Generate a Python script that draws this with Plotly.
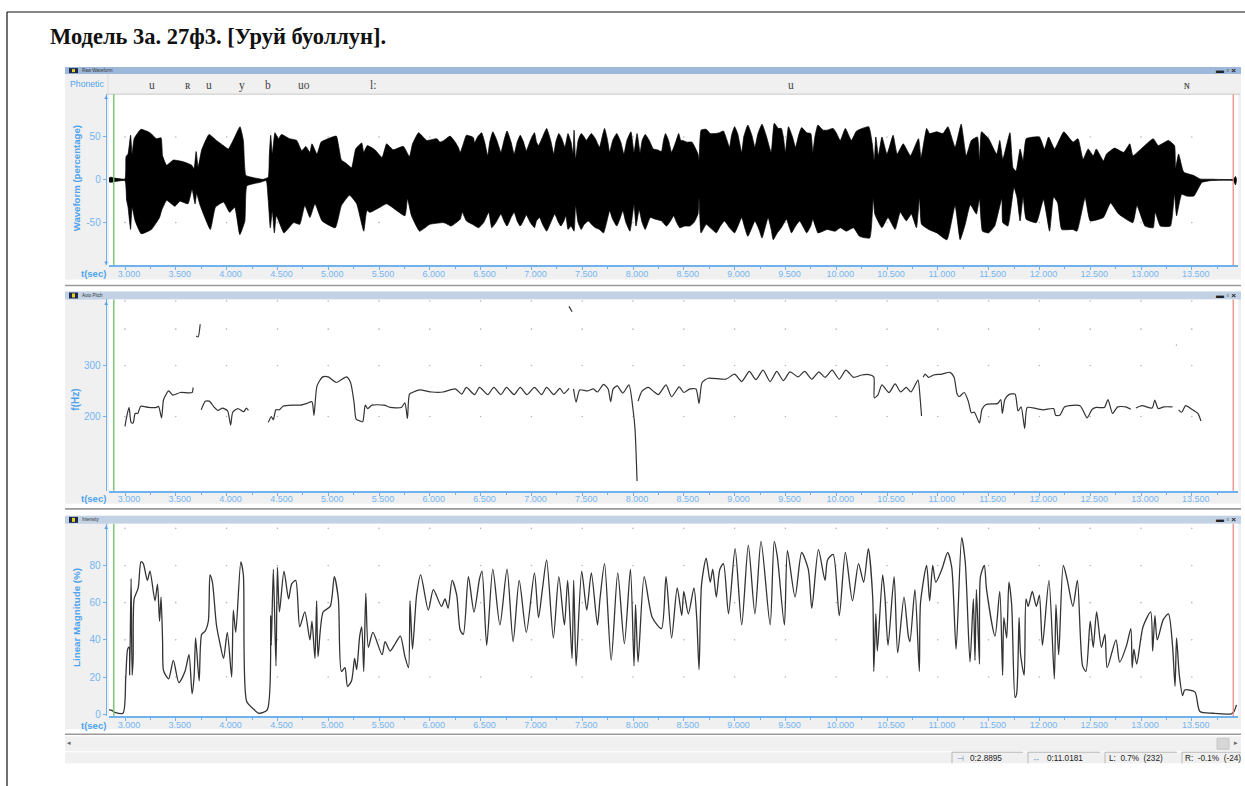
import math
import plotly.graph_objects as go

W, H = 1245, 786
VIEW_H = 781.7  # vertical pixel basis that lands layout pixels on the picture's pixels

# ---------- data ----------
upper_early_t = [2.84,2.86,2.9,3.0,3.01,3.03,3.055,3.07,3.09,3.157,3.246,3.31,3.355,3.37,3.41,3.476,3.575,3.656,3.68,3.70,3.72,3.755,3.827,3.90,3.968,4.017,4.08,4.132,4.165,4.19,4.263,4.36,4.41,4.42,4.434,4.45,4.476,4.51,4.54,4.62,4.69,4.74,4.78,4.82,4.84,4.89,4.93,5.02,5.08,5.13,5.18,5.23,5.27,5.30,5.33,5.35,5.385,5.46,5.53,5.575,5.64,5.74,5.80,5.83,5.89,5.97,6.07]
upper_early = [2,3,2,1,27,30,52,30,48,59,55,48,49,28,17,23,21,17,13,33,15,35,53,46,40,36,50,62,46,5,2.5,0.5,3,27,52,30,55,48,53,48,46,34,39,32,42,30,44,49,51,23,19,14,36,40,43,32,40,35,26,42,35,39,27,42,55,46,48]
upper_mid_t = [6.10,6.14,6.20,6.25,6.28,6.30,6.33,6.36,6.40,6.43,6.44,6.47,6.51,6.54,6.57,6.59,6.62,6.66,6.70,6.73,6.76,6.80,6.83,6.86,6.89,6.92,6.95,6.99,7.03,7.05,7.07,7.11,7.15,7.19,7.22,7.24,7.27,7.30,7.33,7.36,7.39,7.41,7.42,7.435,7.46,7.49,7.52,7.54,7.59,7.63,7.67,7.70,7.72,7.75,7.77,7.80,7.84,7.88,7.91,7.94,7.98,8.01,8.04,8.07,8.09,8.12,8.16,8.20,8.24,8.28,8.30,8.32,8.35,8.38,8.42,8.45,8.47,8.49,8.53,8.58,8.64,8.65,8.67,8.72,8.76,8.81,8.85,8.89,8.92,8.95,8.97,9.00,9.03,9.07,9.09,9.13,9.17,9.20,9.23,9.27,9.31,9.36,9.39,9.43,9.46,9.48,9.50,9.53,9.57,9.60,9.63,9.66,9.71,9.75,9.77,9.79,9.82,9.87,9.91,9.97,10.0,10.04]
upper_mid = [44,46,51,44,38,32,42,52,51,49,43,50,55,44,28,44,56,46,32,46,57,44,30,44,52,45,34,46,55,44,40,50,60,46,30,44,54,48,38,54,44,30,58,24,46,54,50,46,54,48,38,52,60,46,32,46,54,44,30,46,56,32,54,32,46,53,46,36,35,33,46,54,46,32,44,54,46,46,44,44,30,22,58,59,54,54,55,57,48,38,52,62,54,32,50,64,52,38,54,65,52,32,66,60,60,50,32,62,50,38,52,61,55,54,32,50,64,58,58,60,55,46]
upper_late_t = [10.09,10.15,10.20,10.32,10.355,10.375,10.39,10.415,10.45,10.50,10.56,10.60,10.66,10.73,10.81,10.835,10.89,10.92,10.99,11.05,11.10,11.17,11.23,11.28,11.33,11.39,11.41,11.43,11.50,11.58,11.61,11.64,11.71,11.74,11.77,11.81,11.84,11.87,12.00,12.05,12.09,12.15,12.24,12.33,12.38,12.43,12.48,12.53,12.56,12.63,12.66,12.74,12.83,12.89,12.92,13.00,13.12,13.17,13.27,13.33,13.34,13.37,13.42,13.52,13.58,13.68,13.91,13.93,13.94]
upper_late = [60,46,57,62,42,22,50,28,50,30,52,30,42,28,48,26,60,54,56,54,62,38,65,28,46,50,22,56,48,30,46,24,55,14,10,36,22,48,50,36,50,36,56,44,48,24,36,28,36,22,30,37,32,42,28,36,48,40,46,40,13,30,9,5,1,0.7,0.7,4,1]

lower_early_t = [2.84,2.86,2.9,3.0,3.016,3.03,3.055,3.07,3.10,3.16,3.26,3.34,3.36,3.41,3.49,3.54,3.62,3.66,3.69,3.705,3.74,3.84,3.89,3.97,4.03,4.08,4.13,4.18,4.20,4.33,4.39,4.41,4.43,4.45,4.47,4.49,4.565,4.66,4.72,4.77,4.82,4.87,4.94,5.07,5.13,5.21,5.28,5.35,5.38,5.41,5.51,5.575,5.755,5.78,5.82,5.90,6.0,6.13]
lower_early = [-2,-3,-2,-1,-24,-32,-58,-32,-48,-63,-58,-44,-36,-24,-31,-25,-28,-11,-28,-16,-30,-58,-32,-26,-38,-32,-64,-48,-7,-3,-1,-24,-56,-36,-62,-42,-62,-50,-52,-30,-44,-28,-48,-56,-30,-18,-28,-60,-36,-38,-32,-28,-42,-22,-42,-60,-52,-50]
lower_mid_t = [6.16,6.21,6.26,6.30,6.32,6.36,6.42,6.48,6.53,6.58,6.61,6.65,6.70,6.73,6.76,6.80,6.83,6.86,6.89,6.92,6.95,6.99,7.03,7.05,7.08,7.11,7.15,7.19,7.23,7.26,7.29,7.32,7.34,7.36,7.39,7.42,7.435,7.46,7.49,7.52,7.56,7.60,7.63,7.67,7.71,7.74,7.77,7.80,7.84,7.87,7.90,7.93,7.97,8.01,8.03,8.06,8.09,8.12,8.17,8.22,8.28,8.33,8.37,8.40,8.43,8.46,8.51,8.56,8.60,8.64,8.65,8.67,8.72,8.77,8.82,8.86,8.90,8.95,9.00,9.04,9.07,9.10,9.13,9.17,9.20,9.24,9.27,9.30,9.33,9.36,9.38,9.42,9.46,9.51,9.54,9.56,9.60,9.64,9.68,9.71,9.75,9.77,9.80,9.82,9.87,9.91,9.99]
lower_mid = [-51,-54,-50,-46,-38,-48,-52,-56,-50,-38,-56,-50,-40,-48,-54,-44,-38,-48,-54,-48,-41,-50,-56,-48,-44,-52,-60,-50,-40,-48,-54,-48,-42,-58,-54,-60,-30,-50,-58,-52,-48,-53,-56,-58,-62,-50,-36,-46,-54,-46,-36,-50,-60,-29,-54,-35,-50,-58,-44,-46,-48,-54,-48,-42,-50,-56,-54,-54,-50,-40,-21,-62,-52,-57,-62,-54,-48,-56,-62,-52,-44,-56,-66,-56,-48,-58,-68,-56,-44,-58,-70,-62,-56,-46,-56,-62,-54,-48,-56,-62,-54,-46,-56,-62,-60,-58,-60]
lower_late_t = [10.04,10.10,10.17,10.23,10.33,10.365,10.38,10.45,10.51,10.58,10.63,10.69,10.74,10.79,10.82,10.84,10.91,10.99,11.09,11.17,11.22,11.27,11.32,11.38,11.41,11.44,11.50,11.56,11.63,11.64,11.69,11.75,11.78,11.81,11.84,11.87,11.97,12.04,12.10,12.14,12.18,12.22,12.33,12.37,12.45,12.50,12.63,12.70,12.78,12.92,12.96,13.04,13.12,13.14,13.19,13.29,13.33,13.35,13.40,13.45,13.52,13.56,13.60,13.68,13.91,13.93,13.94]
lower_late = [-56,-60,-56,-66,-68,-21,-40,-56,-44,-58,-38,-48,-40,-56,-21,-52,-58,-62,-70,-30,-70,-52,-29,-40,-22,-60,-62,-54,-22,-50,-54,-9,-21,-48,-20,-46,-50,-23,-60,-20,-27,-58,-58,-60,-21,-48,-44,-27,-40,-50,-30,-54,-56,-38,-54,-54,-17,-42,-17,-19,-19,-11,-3,-1,-1,-6,-1]

pitch_t = [3.0,3.012,3.04,3.06,3.08,3.10,3.125,3.155,3.23,3.31,3.33,3.36,3.38,3.43,3.47,3.545,3.66,3.67,None,
           3.70,3.72,3.74,None,
           3.75,3.79,3.83,3.875,3.915,3.96,4.01,4.04,4.06,4.11,4.17,4.195,4.215,None,
           4.41,4.44,4.46,4.485,4.52,4.555,4.65,4.73,4.79,4.84,4.86,4.89,4.945,5.00,5.08,5.18,5.22,5.255,5.275,5.315,5.34,5.365,5.39,5.43,5.55,5.61,5.72,5.755,5.78,5.80,5.84,5.90,6.02,6.13,6.25,6.315,6.36,6.44,6.49,6.57,6.63,6.70,6.755,6.83,6.89,6.955,7.03,7.10,7.15,7.22,7.28,7.32,7.37,None,
           7.37,7.40,None,
           7.415,7.44,7.475,7.55,7.61,7.65,7.71,7.755,7.78,7.805,7.845,7.90,7.96,8.0,8.02,8.04,None,
           8.05,8.09,8.15,8.21,8.25,8.325,8.38,8.455,8.50,8.56,8.62,8.65,8.68,8.74,8.915,9.0,9.07,9.145,9.21,9.28,9.35,9.415,9.48,9.545,9.625,9.69,9.76,9.83,9.89,9.96,10.03,10.095,10.17,10.25,10.32,10.37,10.375,10.41,10.45,10.52,10.58,10.635,10.69,10.735,10.805,10.825,10.84,None,
           10.856,10.875,10.91,10.96,11.04,11.12,11.16,11.19,11.21,11.26,11.30,11.33,11.36,11.41,11.435,11.475,11.59,11.62,11.635,11.66,11.70,11.76,11.79,11.82,11.855,11.88,11.97,12.04,12.14,12.16,12.20,12.25,12.40,12.47,12.52,12.56,12.64,12.675,12.72,12.77,12.85,12.90,None,
           12.95,13.01,13.11,13.135,13.17,13.225,13.31,None,
           13.37,13.40,13.44,13.50,13.56,13.59,None,
           13.345,13.35]
pitch_hz = [185,196,215,191,190,205,205,217,215,215,217,198,229,245,237,242,242,252,None,
            379,376,416,None,
            211,226,226,216,210,214,209,187,207,213,208,214,210,None,
            191,200,195,211,211,217,219,219,222,225,202,255,274,274,262,274,262,223,196,193,192,219,213,219,219,215,215,223,197,239,243,247,243,243,249,239,252,238,252,238,252,238,252,238,252,238,252,238,252,238,250,240,250,None,
            479,459,None,
            249,224,247,245,249,243,258,249,225,249,255,241,257,212,181,120,None,
            226,245,252,243,238,257,234,253,242,249,249,222,262,271,269,280,264,286,268,289,264,286,266,285,274,286,269,285,273,289,269,289,273,278,279,274,232,237,257,242,259,243,252,243,267,234,201,None,
            273,280,273,278,280,284,273,239,234,242,226,206,207,190,212,220,222,229,205,229,238,239,209,216,182,215,213,211,213,202,202,216,218,198,212,215,215,229,205,216,216,212,None,
            214,218,214,228,213,216,216,None,
            211,207,218,212,205,193,None,
            353,352]

intensity_t = [2.84,2.87,2.90,2.98,3.007,3.026,3.04,3.046,3.06,3.07,3.08,3.09,3.13,3.157,3.18,3.22,3.246,3.295,3.32,3.34,3.355,3.37,3.377,3.40,3.43,3.476,3.53,3.59,3.63,3.66,3.68,3.695,3.73,3.755,3.787,3.82,3.837,3.86,3.90,3.935,3.97,4.007,4.05,4.066,4.09,4.14,4.165,4.197,4.26,4.32,4.40,4.434,4.44,4.46,4.486,4.50,4.52,4.565,4.61,4.64,4.68,4.72,4.77,4.82,4.84,4.87,4.886,4.90,4.95,5.02,5.06,5.10,5.13,5.165,5.19,5.23,5.26,5.28,5.31,5.33,5.35,5.37,5.395,5.44,5.53,5.56,5.61,5.66,5.71,5.755,5.79,5.805,5.83,5.87,5.91,5.985,6.035,6.115,6.15,6.18,6.22,6.265,6.30,6.33,6.38,6.435,6.49,6.514,6.56,6.62,6.69,6.76,6.82,6.88,6.95,7.03,7.07,7.11,7.15,7.216,7.27,7.325,7.357,7.40,7.416,7.44,7.495,7.545,7.59,7.65,7.675,7.72,7.785,7.85,7.915,7.975,8.01,8.025,8.05,8.11,8.19,8.28,8.325,8.38,8.435,8.48,8.50,8.545,8.60,8.627,8.65,8.675,8.72,8.76,8.785,8.82,8.855,8.89,8.94,9.005,9.07,9.135,9.2,9.26,9.35,9.39,9.42,9.49,9.52,9.595,9.66,9.725,9.76,9.825,9.89,9.915,9.97,10.03,10.09,10.16,10.22,10.27,10.316,10.36,10.37,10.39,10.405,10.457,10.48,10.51,10.57,10.605,10.667,10.71,10.726,10.775,10.818,10.83,10.89,10.92,10.95,10.98,11.04,11.097,11.137,11.18,11.235,11.27,11.317,11.35,11.366,11.38,11.41,11.42,11.458,11.48,11.563,11.61,11.638,11.65,11.678,11.70,11.727,11.76,11.776,11.80,11.815,11.85,11.868,11.89,11.93,11.97,12.0,12.03,12.094,12.147,12.163,12.19,12.235,12.275,12.33,12.374,12.425,12.458,12.50,12.53,12.563,12.61,12.645,12.667,12.754,12.79,12.858,12.90,12.913,12.93,12.957,13.02,13.095,13.115,13.137,13.16,13.22,13.27,13.31,13.335,13.35,13.377,13.41,13.43,13.53,13.58,13.71,13.89,13.915,13.94]
intensity = [2.3,2,1,0.5,19,35,36,21,73,21,30,62,68,82,81,72,77,61,70,50,63,39,24,21,19,29,17,23,32,11,20,41,18,43,44.5,50,75,71,48,38,30,44,20,56,44,82,75,7,3,0.5,2.3,53,37,78,26,79,55,77,62,70,72,47,55,40,50,30,61,31,55,58,74,62,23,25,15,18,30,24,42,47,23,65,36,44,32,39,34,38,42,31,25,61,35,64,75,56,67,58,62,57,72,64,45,43,74,55,73,77,37,78,48,78,39,72,44,76,52,68,83,41,74,48,72,30,72,26,77,56,76,48,62,81,29,76,38,78,26,59,28,74,52,46,74,41,68,53,66,54,68,52,24,70,84,71,78,63,78,81,54,89,48,91,54,93,48,93,85,48,88,63,87,78,57,88.5,72,83,86,53,87,61,81,71,89,62,23,54,34,75,63,37,74,33,63,42,39,67,23,60,80,61,80,71,78,87,79,35,95,82,28,62,29,67,27,74,80,67,42,66,21,52,41,71,59,9,11,52,32,21,62,58,66,58,64,37,72,19,59,32,80,72,58,72,26,23,50,36,55,36,43,25,40,28,37,46,25,35,27,47,55,34,53,40,51,54,37,15,41,21,10,13,12,1.4,0.5,0.2,1.4,5]

phonetic_labels = ["u", "ʀ", "u", "y", "b", "uo", "l:", "u", "ɴ"]
phonetic_times = [3.266, 3.62, 3.827, 4.15, 4.41, 4.76, 5.44, 9.555, 13.45]

time_ticks = [3.0,3.5,4.0,4.5,5.0,5.5,6.0,6.5,7.0,7.5,8.0,8.5,9.0,9.5,10.0,10.5,11.0,11.5,12.0,12.5,13.0,13.5]
time_tick_text = ["3.000","3.500","4.000","4.500","5.000","5.500","6.000","6.500","7.000","7.500","8.000","8.500","9.000","9.500","10.000","10.500","11.000","11.500","12.000","12.500","13.000","13.500"]
time_minor = [3.25,3.75,4.25,4.75,5.25,5.75,6.25,6.75,7.25,7.75,8.25,8.75,9.25,9.75,10.25,10.75,11.25,11.75,12.25,12.75,13.25,13.75]
wave_ticks = [-50, 0, 50]
pitch_ticks = [200, 300]
intensity_ticks = [0, 20, 40, 60, 80]
wave_dots = [-50, 50]
pitch_dots = [200, 300, 400, 500]
intensity_dots = [20, 40, 60, 80, 100]
cursor_start = 2.8895
cursor_length = 11.0181
status_texts = ["0:2.8895", "0:11.0181", "L:  0.7%  (232)", "R:  -0.1%  (-24)"]
panel_names = ["Raw Waveform", "Auto Pitch", "Intensity"]
y_titles = ["Waveform (percentage)", "f(Hz)", "Linear Magnitude (%)"]
title_text = "Модель 3а. 27ф3. [Уруй буоллун]."

assert len(upper_mid_t) == len(upper_mid) and len(lower_mid_t) == len(lower_mid)
assert len(upper_late_t) == len(upper_late) and len(lower_late_t) == len(lower_late)

wave_upper_t = upper_early_t + upper_mid_t + upper_late_t
wave_upper = upper_early + upper_mid + upper_late
wave_lower_t = lower_early_t + lower_mid_t + lower_late_t
wave_lower = lower_early + lower_mid + lower_late

# ---------- styling ----------
BLUE = "#4ea3ee"
TICK = "#74b6f0"
AXIS = "#6fb2ee"
CHROME = "#f0f0f0"
SANS = "Liberation Sans, Arial, sans-serif"
SERIF = "Liberation Serif, serif"
PX_PER_SEC = 101.6
X0, X1 = 109, 1238
t_range = [3 + (X0 - 125) / PX_PER_SEC, 3 + (X1 - 125) / PX_PER_SEC]

def fx(px): return px / W
def fy(px): return 1 - px / VIEW_H

def rect(x0, y0, x1, y1, color, line=None):
    return dict(type="rect", xref="paper", yref="paper", x0=fx(x0), x1=fx(x1), y0=fy(y0), y1=fy(y1),
                fillcolor=color, line=dict(width=0.7 if line else 0, color=line or color), layer="below")

def hline(x0, x1, y, color, width=1):
    return dict(type="line", xref="paper", yref="paper", x0=fx(x0), x1=fx(x1), y0=fy(y), y1=fy(y),
                line=dict(color=color, width=width), layer="below")

def vline(x, y0, y1, color, width=1):
    return dict(type="line", xref="paper", yref="paper", x0=fx(x), x1=fx(x), y0=fy(y0), y1=fy(y1),
                line=dict(color=color, width=width), layer="below")

def text(x, y, s, size=10, color="#333", family=SANS, anchor="center", angle=0, bold=False):
    return dict(text=f"<b>{s}</b>" if bold else s, x=fx(x), y=fy(y), xref="paper", yref="paper",
                xanchor=anchor, yanchor="middle", showarrow=False, textangle=angle,
                font=dict(size=size, color=color, family=family))

fig = go.Figure()

def dots(xa, ya, rows):
    xs, ys = [], []
    for r in rows:
        for t in time_ticks:
            xs.append(t)
            ys.append(r)
    fig.add_trace(go.Scatter(x=xs, y=ys, xaxis=xa, yaxis=ya, mode="markers", hoverinfo="skip",
                             marker=dict(size=1.6, color="#b4b4b4"), showlegend=False))

dots("x", "y", wave_dots)
dots("x2", "y2", pitch_dots)
dots("x3", "y3", intensity_dots)

fig.add_trace(go.Scatter(x=wave_upper_t + wave_lower_t[::-1], y=wave_upper + wave_lower[::-1],
                         xaxis="x", yaxis="y", mode="lines", fill="toself", fillcolor="black",
                         line=dict(color="black", width=0.7, shape="spline", smoothing=0.4),
                         name="Waveform", showlegend=False))
fig.add_trace(go.Scatter(x=pitch_t, y=pitch_hz, xaxis="x2", yaxis="y2", mode="lines",
                         line=dict(color="#333333", width=1.2, shape="spline", smoothing=0.6),
                         connectgaps=False, name="Pitch", showlegend=False))
fig.add_trace(go.Scatter(x=intensity_t, y=intensity, xaxis="x3", yaxis="y3", mode="lines",
                         line=dict(color="#333333", width=1.3, shape="spline", smoothing=0.7),
                         name="Intensity", showlegend=False))

# (window top, title-bar bottom, plot top, plot bottom, band bottom, separator, bar colour, t(sec) y)
panels = [
    (67, 74, 94, 265, 279, 285, "#9db8d8", 273),
    (291, 299, 299, 490, 503, 508, "#c2d2e4", 498),
    (515, 523, 523, 715, 728, 733, "#c2d2e4", 724),
]

shapes = [hline(7, W, 12, "#111", 1.2), vline(7, 12, H, "#111", 1.2)]
annotations = [text(48, 36, f"<b>{title_text}</b>", size=22.5, color="#111", family=SERIF, anchor="left")]

for i, (top, bar, ptop, pbot, band, sep, barcol, ty) in enumerate(panels):
    shapes.append(rect(65, top, 1241, band, CHROME))
    shapes.append(rect(65, top, 1241, bar, barcol))
    shapes.append(rect(X0, ptop, X1, pbot, "white"))
    shapes.append(hline(65, 1241, sep, "#9a9a9a", 1.6))
    shapes.append(rect(69, top + 1, 78, bar - 1, "#1a2a50"))
    shapes.append(rect(72, top + 2, 75, bar - 2, "#e8d020"))
    annotations.append(text(80, (top + bar) / 2, panel_names[i], size=4.5, color="#333", anchor="left"))
    annotations.append(text(1226, (top + bar) / 2, "<b>▬ ▫ ×</b>", size=8, color="#222"))
    annotations.append(text(93, ty, "t(sec)", size=9.5, color=BLUE, bold=True))

shapes.append(hline(107, 1240, 94, "#c8c8c8", 1))
shapes.append(vline(108, 74, 94, "#dddddd", 1))
annotations.append(text(87, 84, "Phonetic", size=8.7, color=BLUE))
for t, lab in zip(phonetic_times, phonetic_labels):
    annotations.append(dict(text=lab, x=t, xref="x", y=fy(85), yref="paper", showarrow=False,
                            xanchor="center", yanchor="middle",
                            font=dict(size=11.5, color="#444", family=SERIF)))

annotations.append(text(76, 178, y_titles[0], size=9.6, color=BLUE, angle=-90, bold=True))
annotations.append(text(76, 399, y_titles[1], size=10, color=BLUE, angle=-90, bold=True))
annotations.append(text(76, 617, y_titles[2], size=9.8, color=BLUE, angle=-90, bold=True))
for ax_, ay_, ch in [(105.8, 97, "▲"), (105.8, 263, "▼"), (105.8, 302, "▲"), (105.8, 526, "▲")]:
    annotations.append(text(ax_, ay_, ch, size=6, color=BLUE))

for xr, yr in [("x", "y"), ("x2", "y2"), ("x3", "y3")]:
    shapes.append(dict(type="line", xref=xr, yref=f"{yr} domain", x0=cursor_start, x1=cursor_start, y0=0, y1=1,
                       line=dict(color="#74c274", width=1.4), layer="above"))
    shapes.append(dict(type="line", xref=xr, yref=f"{yr} domain",
                       x0=cursor_start + cursor_length, x1=cursor_start + cursor_length, y0=0, y1=1,
                       line=dict(color="#e8837a", width=1.2), layer="above"))

shapes.append(rect(65, 735, 1241, 750, CHROME))
shapes.append(rect(1217, 737, 1229, 748, "#d6d6d6", "#bbbbbb"))
annotations.append(text(69, 741, "◂", size=7, color="#666"))
annotations.append(text(1236, 741, "▸", size=7, color="#666"))
shapes.append(rect(65, 751, 1241, 762, CHROME))
for x0, x1 in [(952, 1023), (1028, 1100), (1105, 1177), (1182, 1241)]:
    shapes.append(vline(x0, 751, 762, "#b8b8b8", 1))
    shapes.append(hline(x0, x1, 751, "#b8b8b8", 1))
annotations.append(text(960, 757, "⊣", size=8, color="#5a8fc0"))
annotations.append(text(1036, 757, "↔", size=8, color="#5a8fc0"))
annotations.append(text(968, 757, status_texts[0], size=8.2, color="#222", anchor="left"))
annotations.append(text(1045, 757, status_texts[1], size=8.2, color="#222", anchor="left"))
annotations.append(text(1107, 757, status_texts[2], size=8.2, color="#222", anchor="left"))
annotations.append(text(1183, 757, status_texts[3], size=8.2, color="#222", anchor="left"))

def x_axis(anchor):
    return dict(domain=[fx(X0), fx(X1)], range=t_range, anchor=anchor, showgrid=False, zeroline=False,
                tickvals=time_ticks, ticktext=time_tick_text, ticks="outside", ticklen=3, tickwidth=1,
                tickcolor=AXIS, showline=True, linecolor=AXIS, linewidth=1.5,
                ticklabelshift=4, ticklabelstandoff=-4, tickangle=0,
                minor=dict(tickvals=time_minor, ticks="outside", ticklen=2, tickcolor=AXIS),
                tickfont=dict(size=9, color=TICK, family=SANS))

def y_axis(ptop, pbot, ticks, rng, log=False):
    d = dict(domain=[fy(pbot), fy(ptop)], range=rng, anchor="free", position=fx(105.8), showgrid=False,
             zeroline=False, tickvals=ticks, ticktext=[str(v) for v in ticks], ticks="outside", ticklen=3,
             tickcolor=AXIS, showline=True, linecolor=AXIS, linewidth=1.2,
             tickfont=dict(size=10, color=TICK, family=SANS))
    if log:
        d["type"] = "log"
    return d

fig.update_layout(
    width=W, height=H, margin=dict(l=0, r=0, t=0, b=0), autosize=False,
    paper_bgcolor="white", plot_bgcolor="rgba(0,0,0,0)", showlegend=False,
    hovermode=False, shapes=shapes, annotations=annotations,
    xaxis=x_axis("y"), xaxis2=x_axis("y2"), xaxis3=x_axis("y3"),
    yaxis=y_axis(94, 265, wave_ticks, [-100, 100]),
    yaxis2=y_axis(299, 490, pitch_ticks, [math.log10(111), math.log10(506)], log=True),
    yaxis3=y_axis(523, 715, intensity_ticks, [-1.08, 102.4]),
)

fig.write_html("out.html", config={"displayModeBar": False},
               post_script="document.body.style.margin='0';document.body.style.overflow='hidden';")
